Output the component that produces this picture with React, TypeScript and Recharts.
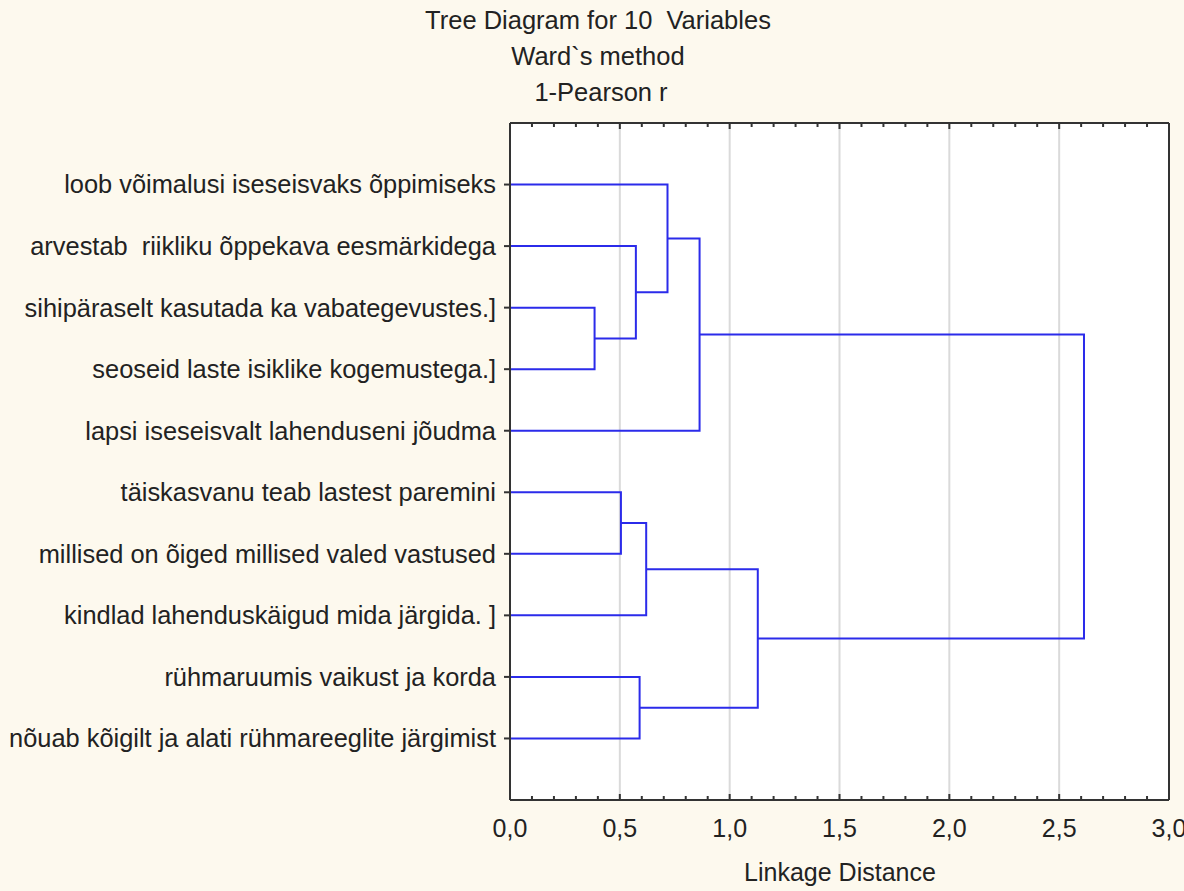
import React from "react";
import { LineChart, Line, XAxis, YAxis, CartesianGrid, ReferenceLine } from "recharts";

// leaves, top to bottom
const leafNames = [
  "loob võimalusi iseseisvaks õppimiseks",
  "arvestab  riikliku õppekava eesmärkidega",
  "sihipäraselt kasutada ka vabategevustes.]",
  "seoseid laste isiklike kogemustega.]",
  "lapsi iseseisvalt lahenduseni jõudma",
  "täiskasvanu teab lastest paremini",
  "millised on õiged millised valed vastused",
  "kindlad lahenduskäigud mida järgida. ]",
  "rühmaruumis vaikust ja korda",
  "nõuab kõigilt ja alati rühmareeglite järgimist",
];

// merge steps: ids 0-9 are leaves, 10+ are the clusters made by earlier steps
const mergeA = [2, 1, 0, 12, 5, 14, 8, 15, 13];
const mergeB = [3, 10, 11, 4, 6, 7, 9, 16, 17];
const mergeHeight = [0.385, 0.573, 0.717, 0.863, 0.505, 0.62, 0.59, 1.128, 2.613];

const xTicks = [0, 0.5, 1, 1.5, 2, 2.5, 3];
const xMinorTicks = Array.from({ length: 31 }, (_, i) => i / 10);
const gridValues = [0.5, 1, 1.5, 2, 2.5];
const leafTicks = leafNames.map((_, i) => i + 1);

const FONT = '"Liberation Sans", Arial, sans-serif';
const BLUE = "#2b2bea";
const INK = "#222";

// build link polylines (leaf/cluster -> merge height -> other child)
const nodePos: number[] = leafNames.map((_, i) => i + 1);
const nodeHeight: number[] = leafNames.map(() => 0);
const links = mergeHeight.map((h, k) => {
  const a = mergeA[k];
  const b = mergeB[k];
  const pts = [
    { x: nodeHeight[a], y: nodePos[a] },
    { x: h, y: nodePos[a] },
    { x: h, y: nodePos[b] },
    { x: nodeHeight[b], y: nodePos[b] },
  ];
  nodePos.push((nodePos[a] + nodePos[b]) / 2);
  nodeHeight.push(h);
  return pts;
});

const isMajor = (v: number) => xTicks.some((t) => Math.abs(t - v) < 1e-6);

const BottomTick = (props: any) => {
  const { x, y, payload } = props;
  const v = payload.value as number;
  const major = isMajor(v);
  return (
    <g>
      <line x1={x} y1={y} x2={x} y2={y - (major ? 6 : 4)} stroke="#333" strokeWidth={2} />
      {major && (
        <text x={x} y={y + 37} textAnchor="middle" fontSize={25} fontFamily={FONT} fill={INK}>
          {v.toFixed(1).replace(".", ",")}
        </text>
      )}
    </g>
  );
};

const TopTick = (props: any) => {
  const { x, y, payload } = props;
  const major = isMajor(payload.value);
  return <line x1={x} y1={y} x2={x} y2={y + (major ? 6 : 4)} stroke="#333" strokeWidth={2} />;
};

const RightTick = (props: any) => {
  const { x, y } = props;
  return <line x1={x} y1={y} x2={x - 6} y2={y} stroke="#333" strokeWidth={2} />;
};

const LeftTick = (props: any) => {
  const { x, y, payload } = props;
  return (
    <text
      x={x}
      y={y}
      dy="0.35em"
      textAnchor="end"
      fontSize={25.4}
      fontFamily={FONT}
      fill={INK}
      style={{ whiteSpace: "pre" }}
    >
      {leafNames[payload.value - 1]}
    </text>
  );
};

const titleStyle: React.CSSProperties = {
  position: "absolute",
  left: 398,
  width: 400,
  textAlign: "center",
  fontFamily: FONT,
  fontSize: 25.5,
  color: INK,
  whiteSpace: "pre",
  lineHeight: "28px",
};

export default function App() {
  return (
    <div
      style={{
        position: "absolute",
        left: 0,
        top: 0,
        width: 1184,
        height: 891,
        background: "#fdf9ee",
        overflow: "hidden",
      }}
    >
      <div style={{ ...titleStyle, top: 6 }}>Tree Diagram for 10  Variables</div>
      <div style={{ ...titleStyle, top: 42 }}>Ward`s method</div>
      <div style={{ ...titleStyle, top: 78, left: 401 }}>1-Pearson r</div>

      <LineChart width={1184} height={891} margin={{ top: 122, right: 14, bottom: 30, left: 10 }}>
        <CartesianGrid xAxisId="b" yAxisId="l" fill="#fff" horizontal={false} vertical={false} />
        <XAxis
          xAxisId="b"
          orientation="bottom"
          type="number"
          dataKey="x"
          domain={[0, 3]}
          allowDataOverflow
          ticks={xMinorTicks}
          interval={0}
          height={61}
          tickSize={0}
          tickMargin={0}
          tickLine={false}
          axisLine={{ stroke: "#333", strokeWidth: 2 }}
          tick={BottomTick}
        />
        <XAxis
          xAxisId="t"
          orientation="top"
          type="number"
          dataKey="x"
          domain={[0, 3]}
          allowDataOverflow
          ticks={xMinorTicks}
          interval={0}
          height={1}
          tickSize={0}
          tickMargin={0}
          tickLine={false}
          axisLine={{ stroke: "#333", strokeWidth: 2 }}
          tick={TopTick}
        />
        <YAxis
          yAxisId="l"
          orientation="left"
          type="number"
          domain={[0, 11]}
          reversed
          ticks={leafTicks}
          interval={0}
          width={500}
          tickSize={6}
          tickMargin={8}
          tickLine={{ stroke: "#333", strokeWidth: 2 }}
          axisLine={{ stroke: "#333", strokeWidth: 2 }}
          tick={LeftTick}
        />
        <YAxis
          yAxisId="r"
          orientation="right"
          type="number"
          domain={[0, 11]}
          reversed
          ticks={leafTicks}
          interval={0}
          width={1}
          tickSize={0}
          tickMargin={0}
          tickLine={false}
          axisLine={{ stroke: "#333", strokeWidth: 2 }}
          tick={RightTick}
        />
        {gridValues.map((v) => (
          <ReferenceLine key={v} x={v} xAxisId="b" yAxisId="l" stroke="#dadada" strokeWidth={2} />
        ))}
        {links.map((pts, i) => (
          <Line
            key={i}
            data={pts}
            dataKey="y"
            xAxisId="b"
            yAxisId="l"
            type="linear"
            stroke={BLUE}
            strokeWidth={2}
            dot={false}
            activeDot={false}
            isAnimationActive={false}
          />
        ))}
      </LineChart>

      <div
        style={{
          position: "absolute",
          left: 690,
          width: 300,
          top: 858,
          textAlign: "center",
          fontFamily: FONT,
          fontSize: 25,
          color: INK,
          lineHeight: "28px",
        }}
      >
        Linkage Distance
      </div>
    </div>
  );
}
